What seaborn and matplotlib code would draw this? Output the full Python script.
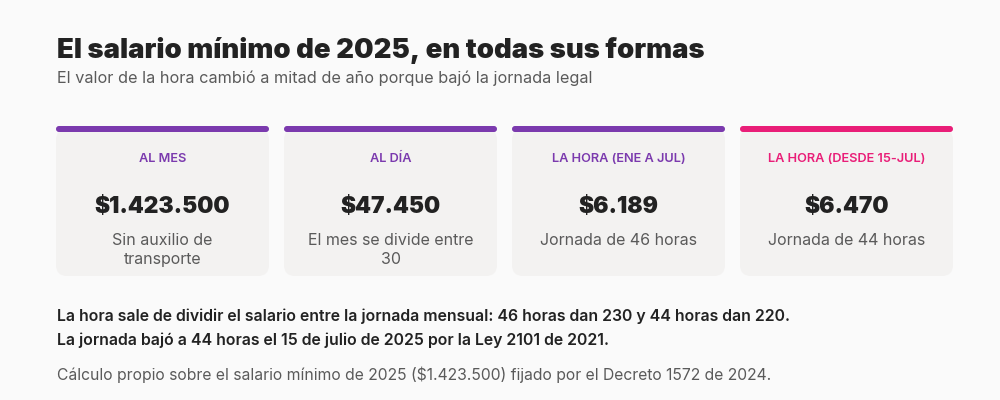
import matplotlib
matplotlib.use("Agg")
import matplotlib.pyplot as plt
from matplotlib.patches import FancyBboxPatch
import seaborn as sns

# data
card_labels = ["AL MES", "AL DÍA", "LA HORA (ENE A JUL)", "LA HORA (DESDE 15-JUL)"]
card_values = [1423500, 47450, 6189, 6470]
card_notes = ["Sin auxilio de\ntransporte", "El mes se divide entre\n30",
              "Jornada de 46 horas", "Jornada de 44 horas"]

title = "El salario mínimo de 2025, en todas sus formas"
subtitle = "El valor de la hora cambió a mitad de año porque bajó la jornada legal"
notes = ["La hora sale de dividir el salario entre la jornada mensual: 46 horas dan 230 y 44 horas dan 220.",
         "La jornada bajó a 44 horas el 15 de julio de 2025 por la Ley 2101 de 2021."]
source = "Cálculo propio sobre el salario mínimo de 2025 ($1.423.500) fijado por el Decreto 1572 de 2024."

# styles
PURPLE = "#7b3aae"
PINK = "#e91e78"
accent = [PURPLE, PURPLE, PURPLE, PINK]
BG = "#fafafa"
CARD = "#f3f2f1"
DARK = "#222222"
GREY = "#5a5a5a"

sns.set_theme(style="white")
plt.rcParams["font.family"] = ["Inter", "DejaVu Sans"]

fig = plt.figure(figsize=(10, 4), dpi=100, facecolor=BG)

fig.text(0.057, 1 - 50 / 400, title, fontsize=19.8, fontweight="black",
         color=DARK, va="center", ha="left")
fig.text(0.057, 1 - 78 / 400, subtitle, fontsize=11.7, color=GREY,
         va="center", ha="left")

# card area: 897 x 150 px, units = pixels
ax = fig.add_axes([56 / 1000, 1 - 277 / 400, 897 / 1000, 151 / 400])
ax.set_xlim(0, 897)
ax.set_ylim(151, 0)
ax.axis("off")

w, gap = 213, 15
for i, (lab, val, note) in enumerate(zip(card_labels, card_values, card_notes)):
    x0 = i * (w + gap)
    cx = x0 + w / 2
    ax.add_patch(FancyBboxPatch((x0, 3), w, 147, boxstyle="round,pad=0,rounding_size=11",
                                fc=CARD, ec="none", zorder=1))
    ax.add_patch(FancyBboxPatch((x0, 0), w, 6, boxstyle="round,pad=0,rounding_size=3",
                                fc=accent[i], ec="none", zorder=2))
    ax.text(cx, 32.5, lab, ha="center", va="center", fontsize=9.2,
            fontweight="semibold", color=accent[i])
    ax.text(cx, 81, "$" + f"{val:,}".replace(",", "."), ha="center", va="center",
            fontsize=16.4, fontweight="black", color=DARK)
    ax.text(cx, 107, note, ha="center", va="top", fontsize=11.5,
            color=GREY, linespacing=1.3)

fig.text(0.057, 1 - 316 / 400, notes[0], fontsize=11.4, fontweight="semibold",
         color=DARK, va="center", ha="left")
fig.text(0.057, 1 - 340 / 400, notes[1], fontsize=11.4, fontweight="semibold",
         color=DARK, va="center", ha="left")
fig.text(0.057, 1 - 375 / 400, source, fontsize=11.3, color=GREY,
         va="center", ha="left")

fig.savefig("out.png", dpi=100, facecolor=BG)
